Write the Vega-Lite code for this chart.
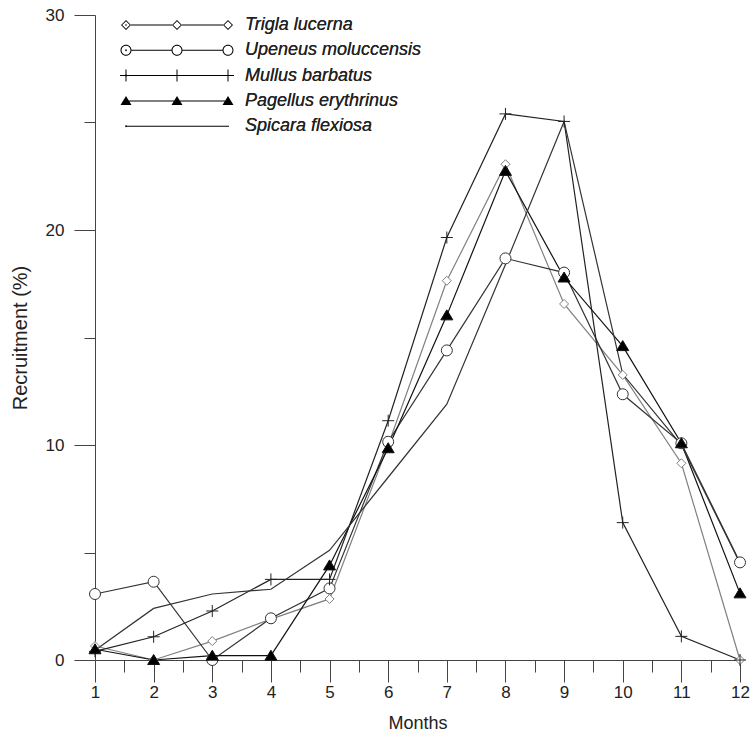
{
  "$schema": "https://vega.github.io/schema/vega-lite/v6.json",
  "width": 645,
  "height": 645,
  "autosize": {"type": "none"},
  "padding": {"left": 95, "top": 15, "right": 11, "bottom": 76},
  "config": {
    "view": {"stroke": null},
    "font": "Liberation Sans",
    "axis": {"grid": false, "domainColor": "#444", "tickColor": "#444", "labelColor": "#222", "titleColor": "#222", "labelFont": "Liberation Sans", "titleFont": "Liberation Sans", "titleFontWeight": "normal", "domainWidth": 1, "tickWidth": 1}
  },
  "data": {
    "values": [
      {"species": "Trigla lucerna", "month": 1, "value": 0.65},
      {"species": "Trigla lucerna", "month": 2, "value": 0},
      {"species": "Trigla lucerna", "month": 3, "value": 0.88},
      {"species": "Trigla lucerna", "month": 4, "value": 1.9},
      {"species": "Trigla lucerna", "month": 5, "value": 2.84},
      {"species": "Trigla lucerna", "month": 6, "value": 10.0},
      {"species": "Trigla lucerna", "month": 7, "value": 17.64},
      {"species": "Trigla lucerna", "month": 8, "value": 23.06},
      {"species": "Trigla lucerna", "month": 9, "value": 16.56},
      {"species": "Trigla lucerna", "month": 10, "value": 13.26},
      {"species": "Trigla lucerna", "month": 11, "value": 9.15},
      {"species": "Trigla lucerna", "month": 12, "value": 0},
      {"species": "Upeneus moluccensis", "month": 1, "value": 3.07},
      {"species": "Upeneus moluccensis", "month": 2, "value": 3.64},
      {"species": "Upeneus moluccensis", "month": 3, "value": 0},
      {"species": "Upeneus moluccensis", "month": 4, "value": 1.94},
      {"species": "Upeneus moluccensis", "month": 5, "value": 3.33},
      {"species": "Upeneus moluccensis", "month": 6, "value": 10.15},
      {"species": "Upeneus moluccensis", "month": 7, "value": 14.4},
      {"species": "Upeneus moluccensis", "month": 8, "value": 18.68},
      {"species": "Upeneus moluccensis", "month": 9, "value": 18.02},
      {"species": "Upeneus moluccensis", "month": 10, "value": 12.36},
      {"species": "Upeneus moluccensis", "month": 11, "value": 10.08},
      {"species": "Upeneus moluccensis", "month": 12, "value": 4.54},
      {"species": "Mullus barbatus", "month": 1, "value": 0.4},
      {"species": "Mullus barbatus", "month": 2, "value": 1.08},
      {"species": "Mullus barbatus", "month": 3, "value": 2.28},
      {"species": "Mullus barbatus", "month": 4, "value": 3.75},
      {"species": "Mullus barbatus", "month": 5, "value": 3.75},
      {"species": "Mullus barbatus", "month": 6, "value": 11.13},
      {"species": "Mullus barbatus", "month": 7, "value": 19.65},
      {"species": "Mullus barbatus", "month": 8, "value": 25.4},
      {"species": "Mullus barbatus", "month": 9, "value": 25.05},
      {"species": "Mullus barbatus", "month": 10, "value": 6.39},
      {"species": "Mullus barbatus", "month": 11, "value": 1.1},
      {"species": "Mullus barbatus", "month": 12, "value": 0},
      {"species": "Pagellus erythrinus", "month": 1, "value": 0.5},
      {"species": "Pagellus erythrinus", "month": 2, "value": 0},
      {"species": "Pagellus erythrinus", "month": 3, "value": 0.2},
      {"species": "Pagellus erythrinus", "month": 4, "value": 0.2},
      {"species": "Pagellus erythrinus", "month": 5, "value": 4.4},
      {"species": "Pagellus erythrinus", "month": 6, "value": 9.85},
      {"species": "Pagellus erythrinus", "month": 7, "value": 16.03},
      {"species": "Pagellus erythrinus", "month": 8, "value": 22.75},
      {"species": "Pagellus erythrinus", "month": 9, "value": 17.79},
      {"species": "Pagellus erythrinus", "month": 10, "value": 14.6},
      {"species": "Pagellus erythrinus", "month": 11, "value": 10.08},
      {"species": "Pagellus erythrinus", "month": 12, "value": 3.1},
      {"species": "Spicara flexiosa", "month": 1, "value": 0.45},
      {"species": "Spicara flexiosa", "month": 2, "value": 2.4},
      {"species": "Spicara flexiosa", "month": 3, "value": 3.07},
      {"species": "Spicara flexiosa", "month": 4, "value": 3.29},
      {"species": "Spicara flexiosa", "month": 5, "value": 5.1},
      {"species": "Spicara flexiosa", "month": 6, "value": 8.5},
      {"species": "Spicara flexiosa", "month": 7, "value": 11.9},
      {"species": "Spicara flexiosa", "month": 8, "value": 18.4},
      {"species": "Spicara flexiosa", "month": 9, "value": 25.05},
      {"species": "Spicara flexiosa", "month": 10, "value": 13.3},
      {"species": "Spicara flexiosa", "month": 11, "value": 10.0},
      {"species": "Spicara flexiosa", "month": 12, "value": 4.5}
    ]
  },
  "layer": [
    {
      "mark": {"type": "line", "strokeWidth": 1.2},
      "encoding": {
        "x": {"field": "month", "type": "quantitative", "scale": {"domain": [1, 12], "nice": false, "zero": false},
          "axis": {"orient": "bottom", "values": [1,2,3,4,5,6,7,8,9,10,11,12], "format": "d", "tickSize": 22, "labelPadding": 2, "labelFontSize": 17, "labelFlush": false, "labelOverlap": false, "title": "Months", "titleFontSize": 18, "titlePadding": 14}},
        "y": {"field": "value", "type": "quantitative", "scale": {"domain": [0, 30], "nice": false},
          "axis": {"orient": "left", "values": [0, 10, 20, 30], "format": "d", "tickSize": 21, "labelPadding": 10, "labelFontSize": 17, "labelFlush": false, "title": "Recruitment (%)", "titleFontSize": 20, "titlePadding": 15}},
        "detail": {"field": "species", "type": "nominal"},
        "stroke": {"field": "species", "type": "nominal",
          "scale": {"domain": ["Spicara flexiosa", "Pagellus erythrinus", "Mullus barbatus", "Upeneus moluccensis", "Trigla lucerna"], "range": ["#333333", "#111111", "#222222", "#333333", "#808080"]},
          "legend": null}
      }
    },
    {
      "mark": {"type": "point", "size": 4, "strokeWidth": 1, "opacity": 1},
      "encoding": {
        "x": {"field": "month", "type": "quantitative", "axis": null},
        "y": {"field": "value", "type": "quantitative", "axis": null},
        "stroke": {"field": "species", "type": "nominal", "legend": null},
        "fill": {"field": "species", "type": "nominal",
          "scale": {"domain": ["Spicara flexiosa", "Pagellus erythrinus", "Mullus barbatus", "Upeneus moluccensis", "Trigla lucerna"], "range": ["#ffffff", "#000000", "#ffffff", "#ffffff", "#ffffff"]},
          "legend": null},
        "shape": {"field": "species", "type": "nominal",
          "scale": {"domain": ["Trigla lucerna", "Upeneus moluccensis", "Mullus barbatus", "Pagellus erythrinus", "Spicara flexiosa"],
            "range": ["M-4.5,0L0,-4.5L4.5,0L0,4.5Z", "M-5.5,0A5.5,5.5 0 1,0 5.5,0A5.5,5.5 0 1,0 -5.5,0Z", "M-6,0H6M0,-6V6", "M0,-5.5L6,4.5L-6,4.5Z", "M0,0"]},
          "legend": null
        }
      }
    },
    {
      "transform": [{"filter": "false"}],
      "mark": {"type": "point", "filled": true, "size": 4, "opacity": 1, "strokeWidth": 0},
      "encoding": {
        "x": {"field": "month", "type": "quantitative", "axis": null},
        "y": {"field": "value", "type": "quantitative", "axis": null},
        "shape": {"field": "species", "type": "nominal",
          "scale": {"domain": ["Trigla lucerna", "Upeneus moluccensis", "Mullus barbatus", "Pagellus erythrinus", "Spicara flexiosa"],
            "range": [
              "M5,-0.5H46V0.5H5ZM56,-0.5H97V0.5H56ZM-5,0L0,-5L5,0L0,5ZM-3.8,0L0,3.8L3.8,0L0,-3.8ZM46,0L51,-5L56,0L51,5ZM47.2,0L51,3.8L54.8,0L51,-3.8ZM97,0L102,-5L107,0L102,5ZM98.2,0L102,3.8L105.8,0L102,-3.8Z",
              "M5.5,-0.5H45.5V0.5H5.5ZM56.5,-0.5H96.5V0.5H56.5ZM-5.5,0A5.5,5.5 0 0,1 0,-5.5A5.5,5.5 0 0,1 5.5,0A5.5,5.5 0 0,1 0,5.5A5.5,5.5 0 0,1 -5.5,0ZM-4.5,0A4.5,4.5 0 0,0 0,4.5A4.5,4.5 0 0,0 4.5,0A4.5,4.5 0 0,0 0,-4.5A4.5,4.5 0 0,0 -4.5,0ZM45.5,0A5.5,5.5 0 0,1 51,-5.5A5.5,5.5 0 0,1 56.5,0A5.5,5.5 0 0,1 51,5.5A5.5,5.5 0 0,1 45.5,0ZM46.5,0A4.5,4.5 0 0,0 51,4.5A4.5,4.5 0 0,0 55.5,0A4.5,4.5 0 0,0 51,-4.5A4.5,4.5 0 0,0 46.5,0ZM96.5,0A5.5,5.5 0 0,1 102,-5.5A5.5,5.5 0 0,1 107.5,0A5.5,5.5 0 0,1 102,5.5A5.5,5.5 0 0,1 96.5,0ZM97.5,0A4.5,4.5 0 0,0 102,4.5A4.5,4.5 0 0,0 106.5,0A4.5,4.5 0 0,0 102,-4.5A4.5,4.5 0 0,0 97.5,0Z",
              "M-6,-0.5H108V0.5H-6ZM-0.5,-6H0.5V6H-0.5ZM50.5,-6H51.5V6H50.5ZM101.5,-6H102.5V6H101.5Z",
              "M0,-0.5H102V0.5H0ZM0,-5L5.5,4L-5.5,4ZM51,-5L56.5,4L45.5,4ZM102,-5L107.5,4L96.5,4Z",
              "M0,-0.5H103V0.5H0Z"
            ]},
          "legend": {
            "orient": "none", "legendX": 22, "legendY": 1, "title": null, "padding": 0,
            "symbolSize": 4, "labelOffset": 110, "labelFont": "Liberation Sans", "labelFontStyle": "italic", "labelFontSize": 18, "labelColor": "#222", "rowPadding": 7.3, "labelLimit": 300, "symbolStrokeWidth": 0
          }
        },
        "color": {"field": "species", "type": "nominal",
          "scale": {"domain": ["Trigla lucerna", "Upeneus moluccensis", "Mullus barbatus", "Pagellus erythrinus", "Spicara flexiosa"],
            "range": ["#6a6a6a", "#2a2a2a", "#1a1a1a", "#000000", "#2a2a2a"]},
          "legend": {
            "orient": "none", "legendX": 22, "legendY": 1, "title": null, "padding": 0,
            "symbolSize": 4, "labelOffset": 110, "labelFont": "Liberation Sans", "labelFontStyle": "italic", "labelFontSize": 18, "labelColor": "#222", "rowPadding": 7.3, "labelLimit": 300, "symbolStrokeWidth": 0
          }
        }
      }
    },
    {
      "mark": {"type": "point", "opacity": 0},
      "encoding": {
        "x": {"field": "month", "type": "quantitative",
          "axis": {"orient": "bottom", "values": [1.5,2.5,3.5,4.5,5.5,6.5,7.5,8.5,9.5,10.5,11.5], "tickSize": 12, "labels": false, "domain": false, "title": null}},
        "y": {"field": "value", "type": "quantitative",
          "axis": {"orient": "left", "values": [5, 15, 25], "tickSize": 11, "labels": false, "domain": false, "title": null}}
      }
    }
  ],
  "resolve": {"axis": {"x": "independent", "y": "independent"}, "scale": {"shape": "independent"}}
}
